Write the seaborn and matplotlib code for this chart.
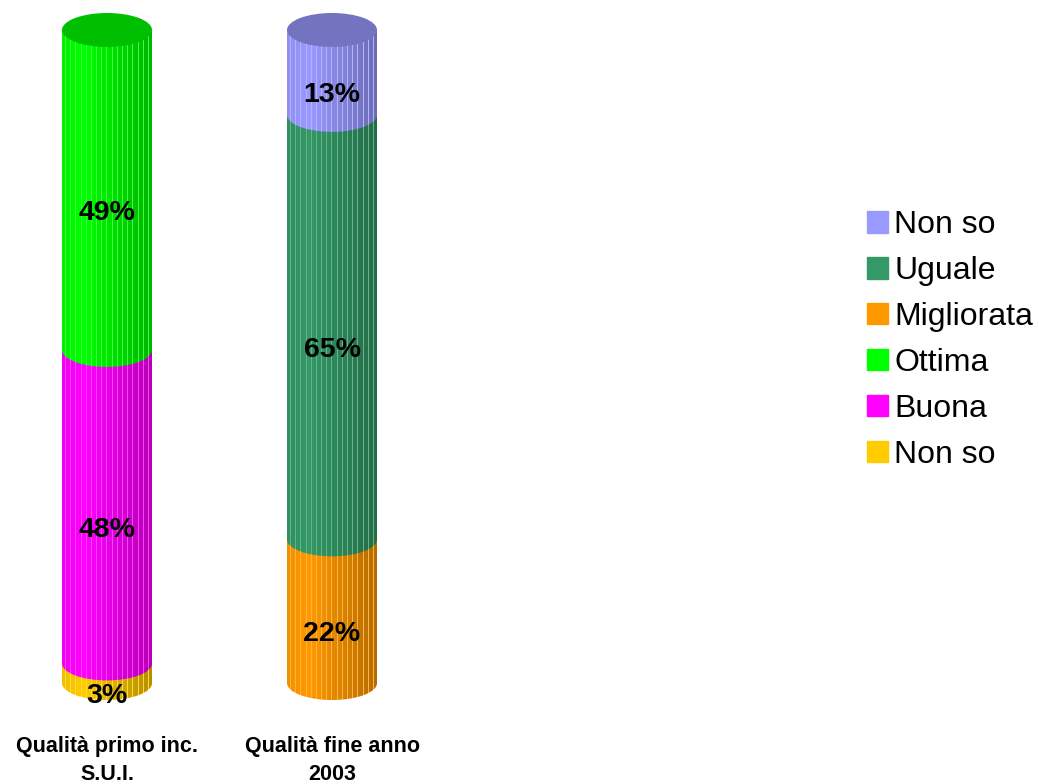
import numpy as np
import pandas as pd
import matplotlib
matplotlib.use("Agg")
import matplotlib.pyplot as plt
from matplotlib.patches import Ellipse, Patch, PathPatch
from matplotlib.path import Path
import seaborn as sns

# data
categories = ["Qualità primo inc.\nS.U.I.", "Qualità fine anno\n2003"]
col1_labels = ["Non so", "Buona", "Ottima"]
col1_values = [3, 48, 49]
col1_colors = ["#FFCC00", "#FF00FF", "#00FF00"]
col2_labels = ["Migliorata", "Uguale", "Non so"]
col2_values = [22, 65, 13]
col2_colors = ["#FF9900", "#339966", "#9999FF"]
cap_colors = ["#00BF00", "#7373BF"]

sns.set_style("white")
plt.rcParams["font.family"] = ["Liberation Sans", "DejaVu Sans"]
plt.rcParams["text.color"] = "black"
plt.rcParams["xtick.color"] = "black"

rows = []
for cat, labels, values, colors in zip(categories, [col1_labels, col2_labels],
                                       [col1_values, col2_values], [col1_colors, col2_colors]):
    bottom = 0
    for level, (lab, val, col) in enumerate(zip(labels, values, colors)):
        rows.append(dict(category=cat, key=f"{cat}|{level}", label=lab, value=val,
                         bottom=bottom, top=bottom + val, level=level, color=col))
        bottom += val
df = pd.DataFrame(rows)

fig = plt.figure(figsize=(10.39, 7.84), dpi=100)
ax = fig.add_axes([0, 84 / 784, 450 / 1039, 690 / 784])

bar_w = 0.4
ell_h = 5.2  # depth of the cylinder ellipses, in y units

# stacked bars: draw cumulative tops, tallest first
for level in sorted(df["level"].unique(), reverse=True):
    sub = df[df["level"] == level]
    sns.barplot(data=sub, x="category", y="top", hue="key", order=categories,
                palette=dict(zip(sub["key"], sub["color"])), dodge=False, width=bar_w,
                saturation=1, errorbar=None, legend=False, linewidth=0, ax=ax, zorder=1)

# 3d look: bottom ellipse of each segment, shading, top cap
t = np.linspace(np.pi, 2 * np.pi, 60)
for i, cat in enumerate(categories):
    seg = df[df["category"] == cat]
    for _, r in seg.iterrows():
        ax.add_patch(Ellipse((i, r["bottom"]), bar_w, ell_h, color=r["color"], lw=0, zorder=2))
    total = seg["top"].max()

    xs = i + bar_w / 2 * np.cos(t)
    ys = ell_h / 2 * np.sin(t)
    verts = [(i - bar_w / 2, total)] + list(zip(xs, ys)) + [(i + bar_w / 2, total), (i - bar_w / 2, total)]
    clip = PathPatch(Path(verts, closed=True), transform=ax.transData, fc="none", lw=0)

    n = 90
    u = np.linspace(0, 1, n)
    shade = np.where(u < 0.25, 0.06 * (0.25 - u) / 0.25, 0.3 * (u - 0.25) / 0.75)
    img = np.zeros((1, n, 4))
    img[0, :, 3] = shade
    streaks = np.unique(np.round(np.linspace(3, n - 4, 17)).astype(int))
    img[0, streaks, :3] = 1
    img[0, streaks, 3] = 0.25
    im = ax.imshow(img, extent=[i - bar_w / 2, i + bar_w / 2, -ell_h / 2, total],
                   aspect="auto", interpolation="nearest", zorder=3)
    im.set_clip_path(clip)

    ax.add_patch(Ellipse((i, total), bar_w, ell_h, color=cap_colors[i], lw=0, zorder=4))

    for _, r in seg.iterrows():
        ax.annotate(f"{r['value']}%", (i, r["bottom"] + r["value"] / 2), xytext=(0, -16.5),
                    textcoords="offset points", ha="center", va="center",
                    fontsize=20.5, fontweight="bold", zorder=6)

ax.set_xlim(-0.4756, 1.5244)
ax.set_ylim(-2.6, 103.06)
ax.set_xlabel("")
ax.set_ylabel("")
ax.set_yticks([])
ax.set_xticks(range(len(categories)))
ax.set_xticklabels(categories, fontweight="bold", fontsize=15.5, linespacing=1.45)
ax.tick_params(axis="x", length=0, pad=26)
sns.despine(ax=ax, left=True, bottom=True)

all_labels = col1_labels + col2_labels
all_colors = col1_colors + col2_colors
handles = [Patch(color=c) for c in all_colors[::-1]]
fig.legend(handles, all_labels[::-1], loc="upper left", bbox_to_anchor=(867 / 1039, 1 - 210 / 784),
           frameon=False, fontsize=23, handlelength=0.66, handleheight=0.66,
           handletextpad=0.2, labelspacing=0.5, borderpad=0, borderaxespad=0)

fig.savefig("out.png", dpi=100)
